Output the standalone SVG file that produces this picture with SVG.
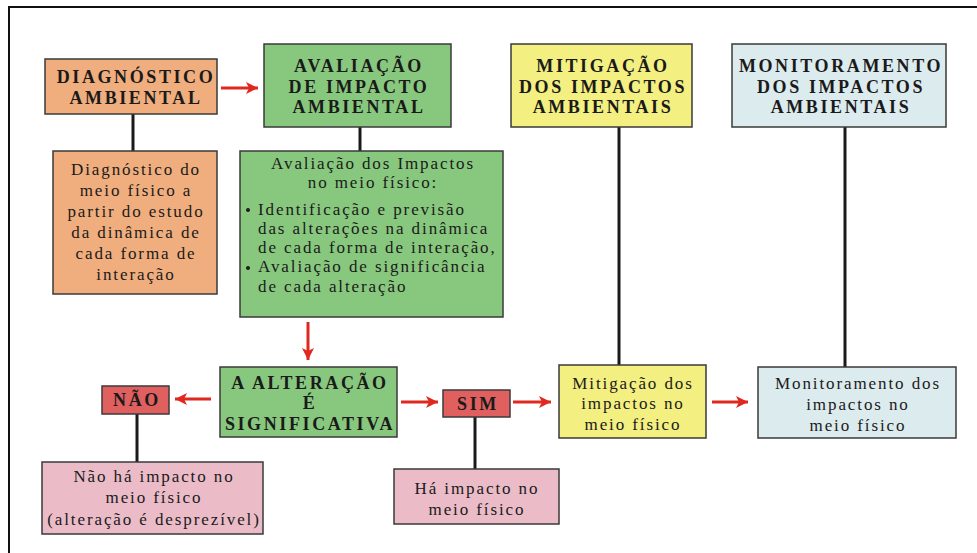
<svg xmlns="http://www.w3.org/2000/svg" width="977" height="553" viewBox="0 0 977 553">
<style>
.box{stroke:#3a3a3a;stroke-width:1.5}
.h{font-family:'Liberation Serif','Times New Roman',serif;font-weight:bold;font-size:18px;letter-spacing:2.6px;fill:#1a1a1a;text-anchor:middle}
.t{font-family:'Liberation Serif','Times New Roman',serif;font-size:17px;letter-spacing:1.9px;fill:#1a1a1a;text-anchor:middle}
.tl{font-family:'Liberation Serif','Times New Roman',serif;font-size:17px;letter-spacing:1.9px;fill:#1a1a1a}
.ln{stroke:#1a1a1a;stroke-width:3;fill:none}
.ar{stroke:#e0281e;stroke-width:3;fill:none;marker-end:url(#ah)}
</style>
<defs>
<marker id="ah" viewBox="0 0 10 10" refX="10" refY="5" markerWidth="4" markerHeight="4" orient="auto" markerUnits="strokeWidth">
<path d="M0,0 L10,5 L0,10 L2.5,5 Z" fill="#e0281e"/>
</marker>
</defs>
<rect width="977" height="553" fill="#ffffff"/>
<rect x="9" y="7" width="1000" height="600" fill="none" stroke="#111" stroke-width="2"/>
<g id="connectors">
<line class="ln" x1="133" y1="114" x2="133" y2="151"/>
<line class="ln" x1="360" y1="127" x2="360" y2="151"/>
<line class="ln" x1="619" y1="127" x2="619" y2="365"/>
<line class="ln" x1="845" y1="127" x2="845" y2="367"/>
<line class="ln" x1="137" y1="414" x2="137" y2="462"/>
<line class="ln" x1="475" y1="417" x2="475" y2="469"/>
<line class="ar" x1="221" y1="88" x2="258" y2="88"/>
<line class="ar" x1="308" y1="322" x2="308" y2="360"/>
<line class="ar" x1="211" y1="399" x2="175" y2="399"/>
<line class="ar" x1="401" y1="402" x2="438" y2="402"/>
<line class="ar" x1="513" y1="402" x2="551" y2="402"/>
<line class="ar" x1="712" y1="402" x2="748" y2="402"/>
</g>
<g id="diag">
<rect class="box" x="45" y="59" width="172" height="55" fill="#f0ae7e"/>
<text class="h" x="136" y="83">DIAGNÓSTICO</text>
<text class="h" x="136" y="104">AMBIENTAL</text>
</g>
<g id="aval">
<rect class="box" x="264" y="44" width="187" height="83" fill="#88c87e"/>
<text class="h" x="359" y="72">AVALIAÇÃO</text>
<text class="h" x="359" y="93">DE IMPACTO</text>
<text class="h" x="359" y="113">AMBIENTAL</text>
</g>
<g id="mitig">
<rect class="box" x="511" y="44" width="181" height="83" fill="#f3ef80"/>
<text class="h" x="603" y="72">MITIGAÇÃO</text>
<text class="h" x="603" y="93">DOS IMPACTOS</text>
<text class="h" x="603" y="113">AMBIENTAIS</text>
</g>
<g id="monit">
<rect class="box" x="732" y="44" width="214" height="83" fill="#dcebee"/>
<text class="h" x="841" y="72">MONITORAMENTO</text>
<text class="h" x="841" y="93">DOS IMPACTOS</text>
<text class="h" x="841" y="113">AMBIENTAIS</text>
</g>
<g id="diag-desc">
<rect class="box" x="53" y="151" width="164" height="143" fill="#f0ae7e"/>
<text class="t" x="136" y="175">Diagnóstico do</text>
<text class="t" x="136" y="196">meio físico a</text>
<text class="t" x="136" y="217">partir do estudo</text>
<text class="t" x="136" y="238">da dinâmica de</text>
<text class="t" x="136" y="259">cada forma de</text>
<text class="t" x="136" y="280">interação</text>
</g>
<g id="aval-desc">
<rect class="box" x="240" y="151" width="263" height="166" fill="#88c87e"/>
<text class="t" x="373" y="169">Avaliação dos Impactos</text>
<text class="t" x="373" y="188">no meio físico:</text>
<circle cx="248" cy="210" r="2" fill="#1a1a1a"/>
<text class="tl" x="258" y="215">Identificação e previsão</text>
<text class="tl" x="258" y="234">das alterações na dinâmica</text>
<text class="tl" x="258" y="253">de cada forma de interação,</text>
<circle cx="248" cy="268" r="2" fill="#1a1a1a"/>
<text class="tl" x="258" y="272">Avaliação de significância</text>
<text class="tl" x="258" y="292">de cada alteração</text>
</g>
<g id="altera">
<rect class="box" x="220" y="367" width="177" height="70" fill="#88c87e"/>
<text class="h" x="310" y="389">A ALTERAÇÃO</text>
<text class="h" x="310" y="409">É</text>
<text class="h" x="310" y="430">SIGNIFICATIVA</text>
</g>
<g id="nao">
<rect class="box" x="102" y="386" width="67" height="28" fill="#e06060"/>
<text class="h" x="137" y="406">NÃO</text>
</g>
<g id="sim">
<rect class="box" x="443" y="390" width="67" height="27" fill="#e06060"/>
<text class="h" x="478" y="410">SIM</text>
</g>
<g id="nao-desc">
<rect class="box" x="42" y="462" width="221" height="72" fill="#ebbcc8"/>
<text class="t" x="154" y="482">Não há impacto no</text>
<text class="t" x="154" y="503">meio físico</text>
<text class="t" x="154" y="525">(alteração é desprezível)</text>
</g>
<g id="sim-desc">
<rect class="box" x="394" y="469" width="165" height="55" fill="#ebbcc8"/>
<text class="t" x="477" y="494">Há impacto no</text>
<text class="t" x="477" y="515">meio físico</text>
</g>
<g id="mitig-desc">
<rect class="box" x="559" y="365" width="147" height="73" fill="#f3ef80"/>
<text class="t" x="633" y="389">Mitigação dos</text>
<text class="t" x="633" y="409">impactos no</text>
<text class="t" x="633" y="430">meio físico</text>
</g>
<g id="monit-desc">
<rect class="box" x="758" y="367" width="198" height="71" fill="#dcebee"/>
<text class="t" x="858" y="389">Monitoramento dos</text>
<text class="t" x="858" y="410">impactos no</text>
<text class="t" x="858" y="431">meio físico</text>
</g>
</svg>
